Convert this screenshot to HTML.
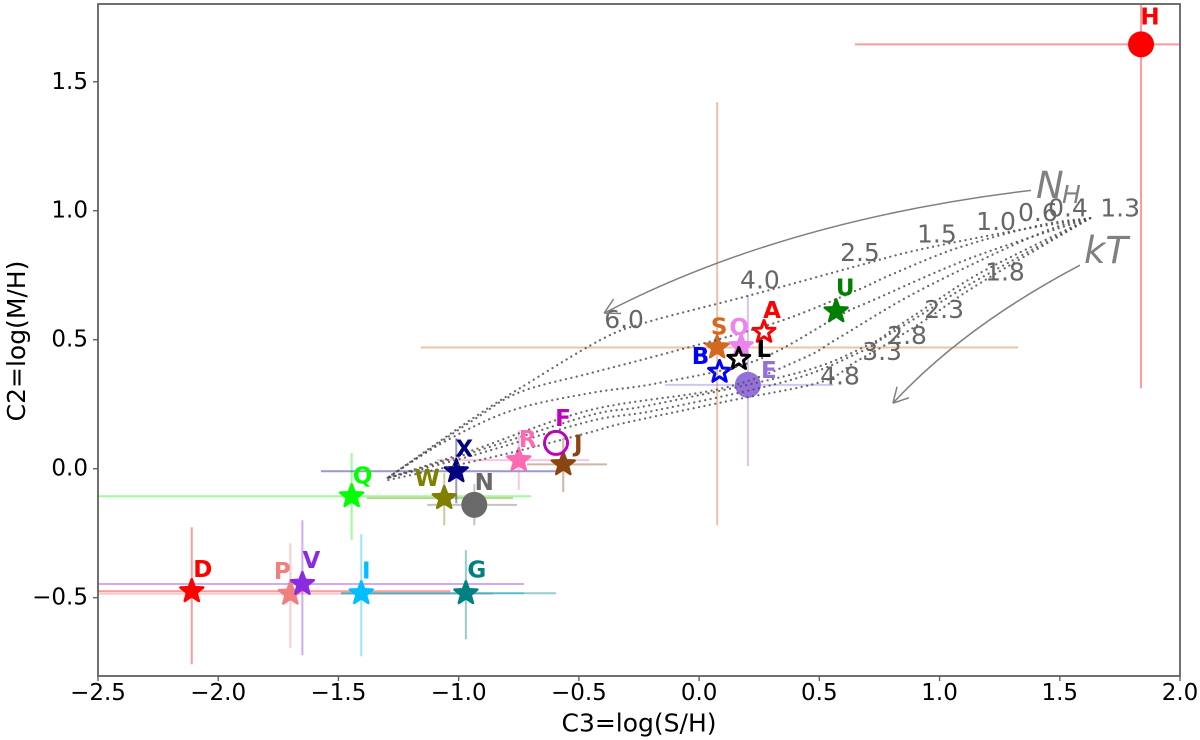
<!DOCTYPE html>
<html lang="en">
<head>
<meta charset="utf-8">
<title>C2 vs C3 colour-colour diagram</title>
<style>
html,body{margin:0;padding:0;background:#fff;width:1200px;height:740px;overflow:hidden}
svg{display:block;filter:blur(0.35px)}
text{font-family:"DejaVu Sans","Liberation Sans",sans-serif}
</style>
</head>
<body>
<svg id="chart" xmlns="http://www.w3.org/2000/svg" width="1200" height="740" viewBox="0 0 1200 740">
<defs><clipPath id="plot-clip"><rect x="98" y="4" width="1082" height="672"/></clipPath></defs>
</svg>
<script>
// ---------- source data ----------
const names = ['D','P','V','I','G','Q','W','N','X','R','J','F','S','O','L','B','A','U','E','H'];
const c3Values = [-2.11,-1.70,-1.65,-1.405,-0.97,-1.445,-1.06,-0.935,-1.01,-0.75,-0.565,-0.595,0.075,0.175,0.165,0.085,0.27,0.57,0.203,1.838];
const c2Values = [-0.475,-0.485,-0.447,-0.483,-0.483,-0.107,-0.114,-0.14,-0.01,0.033,0.017,0.1,0.47,0.475,0.425,0.375,0.53,0.61,0.325,1.645];
const c3Low = [-3,-3,-3,-1.489,-1.489,-3,-1.382,-1.131,-1.573,-1.09,-0.716,null,-1.157,null,null,null,null,null,-0.142,0.648];
const c3High = [-1.035,-0.857,-0.728,-0.728,-0.595,-0.699,-0.774,-0.757,-0.59,-0.458,-0.383,null,1.327,null,null,null,null,null,0.558,2.2];
const c2Low = [-0.758,-0.696,-0.723,-0.727,-0.661,-0.277,-0.219,-0.219,-0.134,-0.083,-0.091,null,-0.219,null,null,null,null,null,0.01,0.312];
const c2High = [-0.227,-0.289,-0.2,-0.254,-0.316,0.06,-0.017,-0.06,0.118,0.149,0.12,null,1.421,null,null,null,null,null,0.672,2.0];

// model curves
const curveC3 = [
 [1.626,1.281,0.906,0.669,0.212,-0.217,-0.412,-0.745,-0.940,-1.298],
 [1.626,1.418,1.073,0.794,0.657,0.324,-0.134,-0.454,-0.745,-0.940,-1.298],
 [1.626,1.139,0.723,0.586,0.241,-0.175,-0.454,-0.774,-1.048,-1.298],
 [1.626,1.418,0.919,0.586,0.432,0.099,-0.454,-0.940,-1.298],
 [1.626,1.189,0.960,0.815,0.702,0.420,-0.204,-0.454,-0.940,-1.298],
 [1.626,1.156,0.906,0.752,0.669,0.378,-0.175,-0.454,-0.940,-1.298],
 [1.626,1.168,0.940,0.773,0.648,0.503,0.099,-0.317,-0.454,-0.828,-1.298]
];
const curveC2 = [
 [0.971,0.917,0.847,0.789,0.672,0.568,0.498,0.312,0.196,-0.037],
 [0.971,0.944,0.855,0.750,0.692,0.568,0.448,0.370,0.297,0.188,-0.037],
 [0.971,0.820,0.653,0.595,0.421,0.331,0.293,0.227,0.110,-0.037],
 [0.971,0.913,0.692,0.510,0.428,0.312,0.227,0.072,-0.037],
 [0.971,0.769,0.634,0.545,0.479,0.374,0.246,0.207,0.064,-0.037],
 [0.971,0.731,0.587,0.498,0.452,0.343,0.227,0.184,0.052,-0.037],
 [0.971,0.719,0.576,0.479,0.413,0.335,0.258,0.176,0.141,0.052,-0.045]
];
const nhLabels = ['0.4','0.6','1.0','1.5','2.5','4.0','6.0'];
const nhLabelC3 = [1.534,1.409,1.235,0.989,0.669,0.253,-0.312];
const nhLabelC2 = [1.010,0.994,0.959,0.909,0.839,0.731,0.579];
const ktLabels = ['1.3','1.8','2.3','2.8','3.3','4.8'];
const ktLabelC3 = [1.751,1.272,1.019,0.865,0.761,0.586];
const ktLabelC2 = [1.010,0.762,0.618,0.517,0.455,0.359];
const xTicks = [-2.5,-2,-1.5,-1,-0.5,0,0.5,1,1.5,2];
const yTicks = [-0.5,0,0.5,1,1.5];
const nhArrowC3 = [1.380,0.345,-0.395];
const nhArrowC2 = [1.079,0.963,0.603];
const ktArrowC3 = [1.584,1.102,0.806];
const ktArrowC2 = [0.789,0.552,0.254];

// ---------- presentation ----------
const look = {
 D:{c:'#ff0000',m:'star',dx:11,dy:-21}, P:{c:'#f08080',m:'star',dx:-8,dy:-22},
 V:{c:'#8a2be2',m:'star',dx:9,dy:-23}, I:{c:'#00bfff',m:'star',dx:5,dy:-22},
 G:{c:'#008080',m:'star',dx:11,dy:-23}, Q:{c:'#00ff00',m:'star',dx:11,dy:-20},
 W:{c:'#808000',m:'star',dx:-17,dy:-19}, N:{c:'#696969',m:'circle',dx:10,dy:-22},
 X:{c:'#000080',m:'star',dx:8,dy:-22}, R:{c:'#ff69b4',m:'star',dx:9,dy:-20},
 J:{c:'#8b4513',m:'star',dx:15,dy:-20}, F:{c:'#bf00bf',m:'ring',dx:7,dy:-24},
 S:{c:'#d2691e',m:'star',dx:2,dy:-20}, O:{c:'#ee82ee',m:'star',dx:-2,dy:-18},
 L:{c:'#000000',m:'open',dx:25,dy:-9}, B:{c:'#0000ff',m:'open',dx:-19,dy:-15},
 A:{c:'#ff0000',m:'open',dx:8,dy:-21}, U:{c:'#008000',m:'star',dx:9,dy:-23},
 E:{c:'#9370db',m:'circle',dx:21,dy:-14}, H:{c:'#ff0000',m:'circle',dx:9,dy:-27}
};

// ---------- axis functions ----------
const plot = {left:98,right:1180,top:4,bottom:676};
const xMin=-2.5,xMax=2,yMin=-0.8036,yMax=1.8014;
const sx = v => plot.left + (v-xMin)/(xMax-xMin)*(plot.right-plot.left);
const sy = v => plot.bottom - (v-yMin)/(yMax-yMin)*(plot.bottom-plot.top);

const svg = document.getElementById('chart');
const NS = 'http://www.w3.org/2000/svg';
function mk(tag, attrs, parent){
  const e = document.createElementNS(NS, tag);
  for (const k in attrs) e.setAttribute(k, attrs[k]);
  (parent||svg).appendChild(e);
  return e;
}
function group(name, clipped){
  const g = mk('g', clipped ? {'clip-path':'url(#plot-clip)'} : {});
  
  
  return g;
}
function starPath(cx, cy, R){
  const r = R*0.42; let d='';
  for (let i=0;i<10;i++){
    const a = -Math.PI/2 + i*Math.PI/5, q = i%2 ? r : R;
    d += (i?'L':'M') + (cx+q*Math.cos(a)).toFixed(2) + ' ' + (cy+q*Math.sin(a)).toFixed(2);
  }
  return d+'Z';
}

// ---------- error bars ----------
const errG = group('error-bars', true);
names.forEach((n,i)=>{
  if (c3Low[i]===null) return;
  const col = look[n].c;
  const h = mk('line',{x1:sx(c3Low[i]),x2:sx(c3High[i]),y1:sy(c2Values[i]),y2:sy(c2Values[i]),stroke:col,'stroke-width':2,'stroke-opacity':0.4},errG);
  
  
  const v = mk('line',{x1:sx(c3Values[i]),x2:sx(c3Values[i]),y1:sy(c2Low[i]),y2:sy(c2High[i]),stroke:col,'stroke-width':2,'stroke-opacity':0.4},errG);
  
  
});

// ---------- markers ----------
const markG = group('source-markers', true);
names.forEach((n,i)=>{
  const s = look[n], x = sx(c3Values[i]), y = sy(c2Values[i]);
  let e;
  if (s.m==='star') e = mk('path',{d:starPath(x,y,12),fill:s.c,stroke:s.c,'stroke-width':2.5,'stroke-linejoin':'round'},markG);
  else if (s.m==='open') e = mk('path',{d:starPath(x,y,11.5),fill:'none',stroke:s.c,'stroke-width':3,'stroke-linejoin':'round'},markG);
  else if (s.m==='ring') e = mk('circle',{cx:x,cy:y,r:11.5,fill:'none',stroke:s.c,'stroke-width':3},markG);
  else e = mk('circle',{cx:x,cy:y,r:13,fill:s.c},markG);
  
  
});

// ---------- model curves ----------
const gridG = group('model-grid', true);
const dotted = {fill:'none',stroke:'#4d4d4d','stroke-opacity':0.85,'stroke-width':2.2,'stroke-dasharray':'0.1 5.4','stroke-linecap':'round','stroke-linejoin':'round'};
// Catmull-Rom smoothing so the traced curves render without corners
function smooth(pts){
  let d = 'M'+pts[0][0].toFixed(1)+' '+pts[0][1].toFixed(1);
  for (let i=0;i<pts.length-1;i++){
    const p0=pts[Math.max(i-1,0)],p1=pts[i],p2=pts[i+1],p3=pts[Math.min(i+2,pts.length-1)];
    const c1=[p1[0]+(p2[0]-p0[0])/6,p1[1]+(p2[1]-p0[1])/6];
    const c2=[p2[0]-(p3[0]-p1[0])/6,p2[1]-(p3[1]-p1[1])/6];
    d += 'C'+c1[0].toFixed(1)+' '+c1[1].toFixed(1)+' '+c2[0].toFixed(1)+' '+c2[1].toFixed(1)+' '+p2[0].toFixed(1)+' '+p2[1].toFixed(1);
  }
  return d;
}
curveC3.forEach((row,r)=>{
  const pts = row.map((v,c)=>[sx(v),sy(curveC2[r][c])]);
  const l = mk('path',Object.assign({d:smooth(pts)},dotted),gridG);
  
  
});

// ---------- grid labels ----------
const gridLabelG = group('model-grid-labels', false);
const gridText = {'font-size':25,fill:'#666666','text-anchor':'middle','dominant-baseline':'central'};
nhLabels.forEach((t,i)=>{
  const e = mk('text',Object.assign({x:sx(nhLabelC3[i]),y:sy(nhLabelC2[i])},gridText),gridLabelG);
  e.textContent = t;
  
  
});
ktLabels.forEach((t,i)=>{
  const e = mk('text',Object.assign({x:sx(ktLabelC3[i]),y:sy(ktLabelC2[i])},gridText),gridLabelG);
  e.textContent = t;
  
  
});

// ---------- source labels ----------
const labelG = group('source-labels', false);
names.forEach((n,i)=>{
  const s = look[n];
  const e = mk('text',{x:sx(c3Values[i])+s.dx,y:sy(c2Values[i])+s.dy,'font-size':23,'font-weight':'bold',fill:s.c,'text-anchor':'middle','dominant-baseline':'central'},labelG);
  e.textContent = n;
  
  
});

// ---------- annotation arrows ----------
function arrow(name, c3s, c2s){
  const p = c3s.map((v,i)=>[sx(v),sy(c2s[i])]);
  const g = group(name, false);
  const st = {fill:'none',stroke:'#808080','stroke-width':1.5};
  mk('path',Object.assign({d:`M${p[0][0]} ${p[0][1]}Q${p[1][0]} ${p[1][1]} ${p[2][0]} ${p[2][1]}`},st),g);
  const a = Math.atan2(p[1][1]-p[2][1],p[1][0]-p[2][0]);
  [0.5,-0.5].forEach(o=>{
    mk('line',Object.assign({x1:p[2][0],y1:p[2][1],x2:p[2][0]+17*Math.cos(a+o),y2:p[2][1]+17*Math.sin(a+o)},st),g);
  });
}
arrow('nh-arrow', nhArrowC3, nhArrowC2);
arrow('kt-arrow', ktArrowC3, ktArrowC2);

// ---------- axes ----------
const axisG = group('axes', false);
const frame = mk('rect',{x:plot.left,y:plot.top,width:plot.right-plot.left,height:plot.bottom-plot.top,fill:'none',stroke:'#606060','stroke-width':1.8},axisG);


const fmt = v => (v<0?'\u2212':'') + Math.abs(v).toFixed(1);
xTicks.forEach(v=>{
  const t = mk('line',{x1:sx(v),x2:sx(v),y1:plot.bottom,y2:plot.bottom+5,stroke:'#606060','stroke-width':1.4},axisG);
  
  
  const e = mk('text',{x:sx(v),y:plot.bottom+17,'font-size':23,fill:'#000','text-anchor':'middle','dominant-baseline':'central'},axisG);
  e.textContent = fmt(v);
  
  
});
yTicks.forEach(v=>{
  const t = mk('line',{x1:plot.left-5,x2:plot.left,y1:sy(v),y2:sy(v),stroke:'#606060','stroke-width':1.4},axisG);
  
  
  const e = mk('text',{x:plot.left-10,y:sy(v),'font-size':23,fill:'#000','text-anchor':'end','dominant-baseline':'central'},axisG);
  e.textContent = fmt(v);
  
  
});

// ---------- titles and annotations ----------
function txt(x,y,str,attrs){
  const e = document.createElementNS(NS,'text');
  e.setAttribute('x',x);
  e.setAttribute('y',y);
  for (const k in attrs) e.setAttribute(k,attrs[k]);
  e.textContent = str;
  svg.appendChild(e);
  return e;
}
const xTitle = txt(639,731.5,'C3=log(S/H)',{'font-size':25,'text-anchor':'middle'});


const yTitle = txt(25,341,'C2=log(M/H)',{'font-size':25,'text-anchor':'middle',transform:'rotate(-90 25 341)'});


const nhNote = txt(1036,198,'N',{'font-size':37,'font-style':'italic',fill:'#808080'});


const nhSub = txt(1062,203,'H',{'font-size':25,'font-style':'italic',fill:'#808080'});


const ktNote = txt(1084,263,'kT',{'font-size':37,'font-style':'italic',fill:'#808080'});


</script>
</body>
</html>
